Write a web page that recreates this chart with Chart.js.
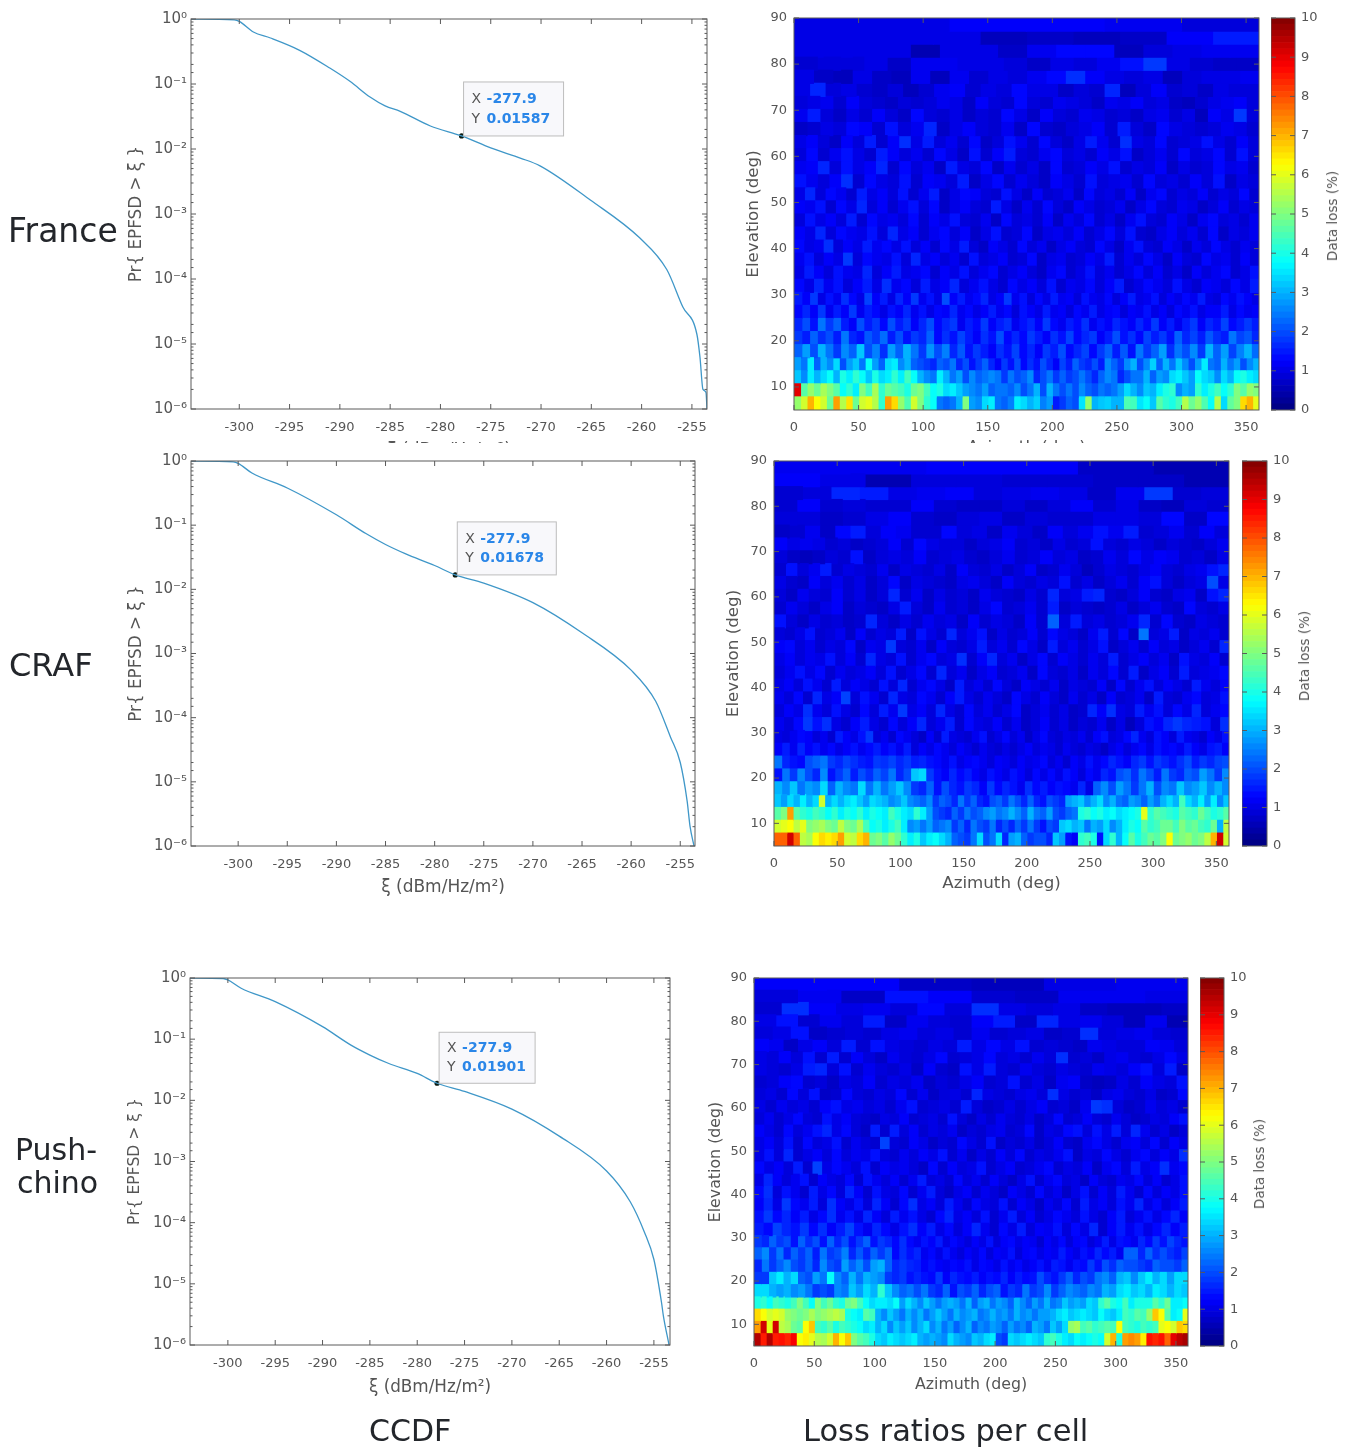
<!DOCTYPE html>
<html>
<head>
<meta charset="utf-8">
<title>CCDF and loss ratios</title>
<script src="https://cdn.jsdelivr.net/npm/chart.js@4"></script>
<style>
html, body { margin: 0; padding: 0; background: #fff; }
#page { position: relative; width: 1354px; height: 1449px; overflow: hidden; filter: blur(0.5px); font-family: "DejaVu Sans", sans-serif; }
#page canvas { position: absolute; }
.big { position: absolute; color: #23262b; white-space: nowrap; line-height: 1; }
.barlabel { position: absolute; font-size: 13.5px; color: #555; white-space: nowrap; transform: translate(-50%, -50%) rotate(-90deg); }
</style>
</head>
<body>
<div id="page"></div>
<script>
// CCDF curves (xi in dBm/Hz/m2, probability)
const franceXi = [-304.8, -300.5, -300, -298.6, -296.9, -294, -291, -289, -287, -285.5, -284, -281, -277.9, -275, -272, -270.1, -265.1, -260.2, -257.5, -255.9, -254.5, -254.2, -253.9, -253.6, -253.5];
const francePr = [1, 0.97, 0.92, 0.63, 0.51, 0.33, 0.176, 0.11, 0.063, 0.046, 0.038, 0.0226, 0.01587, 0.0104, 0.0072, 0.0055, 0.00164, 0.00043, 0.00014, 0.000037, 0.000014, 0.0000063, 0.000002, 0.0000018, 0.000001];
const crafXi = [-304.8, -300.5, -300, -298.6, -295, -290, -287, -285, -283, -280, -277.9, -275, -270, -265, -260, -257.5, -256, -255, -254.3, -254, -253.6];
const crafPr = [1, 0.97, 0.92, 0.65, 0.38, 0.145, 0.074, 0.05, 0.036, 0.0235, 0.01678, 0.0125, 0.0062, 0.0021, 0.00055, 0.00018, 0.00005, 0.00002, 0.000005, 0.000002, 0.000001];
const pushXi = [-304, -300.5, -300, -298.6, -295, -290, -287, -285, -283, -280, -277.9, -275, -270, -265, -260, -257.5, -256, -255, -254.2, -254, -253.4];
const pushPr = [1, 0.98, 0.93, 0.68, 0.41, 0.16, 0.08, 0.055, 0.04, 0.0275, 0.01901, 0.014, 0.0072, 0.0026, 0.0007, 0.00022, 0.00007, 0.000025, 0.000005, 0.000003, 0.000001];

const tipXi = -277.9;
const xiTicks = [-300, -295, -290, -285, -280, -275, -270, -265, -260, -255];
const prTickLabels = ["10⁰", "10⁻¹", "10⁻²", "10⁻³", "10⁻⁴", "10⁻⁵", "10⁻⁶"];
const azimuthTicks = [0, 50, 100, 150, 200, 250, 300, 350];
const elevationTicks = [10, 20, 30, 40, 50, 60, 70, 80, 90];
const lossTicks = [0, 1, 2, 3, 4, 5, 6, 7, 8, 9, 10];

// centre of each elevation row, top row first
const elevationRows = [88.58, 85.75, 82.92, 80.08, 77.25, 74.42, 71.58, 68.75, 65.92, 63.08, 60.25, 57.42, 54.58, 51.75, 48.92, 46.08, 43.25, 40.42, 37.58, 34.75, 31.92, 29.08, 26.25, 23.42, 20.58, 17.75, 14.92, 12.08, 9.25, 6.42];

// loss per cell in tenths of a percent, one line per elevation row, going round in azimuth
const franceLoss = [
[10,10,12,12,11,9],
[10,10,10,10,6,7,6,7,12,15],
[10,10,10,10,5,10,10,7,11,13,13,6,9,10,11,11],
[8,9,9,10,7,11,11,10,10,9,7,10,9,11,14,18,10,8,7,7],
[10,7,6,10,7,6,11,6,11,8,10,9,11,13,17,12,10,9,10,6,9,10,10,11],
[10,16,9,10,8,7,9,6,8,11,12,8,10,9,13,10,10,7,9,8,16,6,9,12,8,9,7,10,9,9],
[9,10,11,8,12,9,8,7,9,8,9,11,10,7,12,9,8,13,9,8,11,10,9,7,11,10,12,9,10,7,6,8,10,11,12,9],
[11,15,9,7,10,8,12,9,7,13,9,8,10,7,9,8,13,10,7,12,9,8,11,10,8,9,7,10,11,8,10,6,12,10,18,9],
[7,8,10,9,13,12,8,14,9,11,16,7,10,12,9,8,11,7,13,8,7,9,10,12,8,15,9,7,13,10,9,8,9,11,10,8],
[10,12,9,7,12,9,15,8,12,17,10,15,9,11,8,13,7,9,14,11,8,13,9,7,10,15,11,8,17,10,9,13,8,9,10,14,10,8,12,9],
[9,13,8,11,14,10,8,15,12,9,11,8,13,10,7,14,8,12,15,9,8,11,13,9,10,8,12,10,14,7,9,11,8,13,9,10,13,8,14,9],
[11,12,16,9,14,10,12,16,8,13,9,11,7,15,10,9,13,7,11,8,10,7,13,8,9,12,10,14,8,10,9,12,7,10,8,9,13,10,11,8],
[14,11,9,12,17,8,13,10,9,14,8,12,11,9,15,7,10,13,8,11,9,7,12,10,8,14,9,10,11,8,13,9,10,8,12,9,14,7,10,9],
[10,16,9,13,11,8,15,10,12,9,14,8,11,15,7,10,13,12,9,8,14,10,7,12,8,9,11,7,13,9,10,8,12,7,11,13,8,10,9,12,8,10,9,13,8],
[12,11,14,8,13,10,16,9,12,8,11,14,9,13,7,10,12,9,8,15,10,7,11,8,13,9,7,12,10,8,9,11,7,10,13,9,8,11,10,7,9,12,8,10,9],
[9,14,10,12,9,15,8,13,10,11,9,13,8,12,10,14,9,8,11,7,13,9,10,8,12,7,11,9,13,8,10,7,11,14,9,8,12,10,7,11,13,9,10,8,11],
[12,10,16,9,13,11,10,14,9,16,10,12,8,11,13,9,12,7,10,14,8,9,13,7,10,11,9,12,8,10,13,9,14,8,7,10,12,9,11,8,13,7,10,9,11],
[13,10,11,17,9,12,10,15,11,13,10,14,9,12,8,13,10,15,9,7,12,10,8,13,9,11,7,10,12,9,8,13,10,7,11,14,9,8,12,10,7,11,9,13,10,8,11,9],
[11,14,9,12,10,18,9,13,11,10,14,9,16,10,12,9,11,8,14,9,10,12,8,9,13,7,10,11,8,9,12,10,15,8,11,9,13,10,7,12,9,8,13,10,11,8,12,9],
[10,15,12,9,14,11,10,16,9,12,15,10,11,13,8,12,10,14,9,11,13,8,10,12,9,7,11,13,8,10,14,9,11,8,10,13,9,12,8,10,7,12,9,11,13,8,10,14],
[13,10,16,11,14,9,12,15,10,17,11,13,9,15,10,12,16,9,11,14,10,8,13,10,12,9,14,8,11,10,13,9,12,15,8,10,13,11,9,14,10,8,12,11,9,13,10,15],
[15,12,18,10,14,11,17,13,10,19,12,15,10,16,12,18,11,14,10,20,12,15,11,13,16,10,12,18,11,14,9,13,10,15,11,12,9,14,11,10,13,9,12,15,10,11,14,9,12,10,13,11,15,10,9,13,11,14,12,10],
[13,16,12,18,11,15,12,18,11,15,13,10,14,12,16,11,14,10,13,12,16,11,13,10,12,15,11,13,9,14,12,10,15,11,12,9,13,11,15,10,12,13,9,12,11,14,10,12,9,13,11,14,10,12,12,15,10,13,11,12],
[16,20,14,24,18,22,15,12,20,15,18,13,20,15,18,12,16,20,13,16,18,11,15,13,18,12,15,17,11,14,16,12,18,13,11,15,13,17,11,14,12,16,14,12,16,13,18,12,15,11,15,18,12,16,14,19,13,15,18,15],
[18,15,22,17,20,15,24,16,14,21,18,23,15,20,14,18,16,22,13,17,14,19,15,12,17,14,20,13,16,13,18,15,12,17,14,19,13,16,18,12,15,20,14,17,13,19,15,18,14,22,16,19,15,21,17,15,24,19,21,16],
[22,28,20,30,24,18,26,22,32,20,25,17,28,22,30,24,18,27,20,25,16,21,14,18,15,12,17,14,19,13,16,12,18,15,20,13,16,19,13,18,22,15,21,14,24,18,22,28,17,24,20,26,18,30,22,28,19,25,30,23],
[28,24,36,22,30,26,34,20,28,32,24,38,28,22,34,36,26,30,22,20,18,16,22,20,24,16,20,14,18,22,16,12,18,14,20,13,17,14,20,16,12,19,15,22,18,16,20,15,26,22,18,26,30,20,26,33,22,30,24,32,26,20,28,36,24,22,30,24,28,20,26,30],
[32,26,36,30,34,38,30,40,36,42,38,32,40,34,36,42,36,44,38,30,26,24,36,30,24,28,20,26,22,24,26,24,18,24,20,22,26,16,20,24,18,22,18,20,24,20,16,22,26,24,16,20,24,24,30,22,28,26,34,36,32,28,38,34,32,26,34,30,38,40,36,34],
[90,46,52,48,54,50,46,38,42,36,50,44,54,42,48,46,44,40,48,50,44,38,40,34,36,32,28,26,24,28,22,24,24,22,26,20,24,30,20,30,24,20,24,20,26,22,20,24,22,24,28,34,30,26,32,30,36,40,42,26,30,28,42,36,40,44,38,42,50,46,52,50],
[52,58,70,62,58,48,72,55,65,48,58,60,55,42,72,66,52,45,58,50,42,38,24,22,24,30,50,28,26,34,36,24,22,25,36,34,30,33,25,28,15,18,22,20,35,52,30,32,33,30,30,45,44,35,38,32,46,42,40,44,55,48,52,45,38,55,34,47,50,66,70,60]
];

const crafLoss = [
[11,11,12,12,7,5],
[12,10,5,9,9,8,8,7,7,5],
[8,9,16,15,10,11,12,9,10,11,10,7,11,18,8,9],
[8,12,8,9,8,8,12,8,7,7,9,7,9,12,8,10,7,6,9,8],
[9,9,7,8,10,12,8,7,9,10,7,9,8,8,10,10,9,13,7,13],
[7,8,11,7,13,15,9,12,11,8,8,13,9,10,7,11,9,7,12,9,11,14,11,15,8,9,11,8,12,9],
[12,10,11,10,8,9,7,8,9,12,8,13,10,9,9,7,9,10,12,8,9,7,10,8,9,14,9,8,10,9,7,9,8,7,9,11],
[9,7,6,7,9,8,14,7,9,10,9,12,8,9,10,8,7,9,11,8,9,12,9,10,7,8,11,9,13,10,12,11,8,9,7,10],
[8,14,9,11,15,8,10,9,8,11,7,10,9,8,10,7,12,9,8,10,7,9,12,7,8,11,9,6,8,10,9,8,10,12,9,8,10,11,14,16],
[10,8,7,12,9,11,8,10,7,9,13,7,10,9,8,7,10,11,9,7,12,9,8,10,9,14,8,10,7,9,11,8,12,14,9,7,9,10,20,10],
[9,7,11,9,8,12,8,10,7,9,16,8,11,7,10,8,9,7,11,9,8,7,10,8,16,9,10,15,16,8,7,9,12,8,7,10,11,7,14,16],
[8,11,9,7,10,12,7,9,8,7,10,15,9,7,11,8,9,7,10,13,8,9,11,8,15,7,9,8,7,8,10,7,9,11,8,7,13,9,8,10],
[14,9,7,10,8,9,7,8,16,9,7,10,8,11,9,10,7,12,8,10,9,7,12,8,22,9,15,9,10,8,9,11,16,8,13,8,7,10,9,8],
[9,8,10,14,8,9,11,7,12,8,10,9,15,7,14,10,8,16,9,11,14,7,10,8,9,12,8,13,10,9,7,11,15,8,13,7,24,9,10,15,7,10,9,11,8],
[12,13,9,11,8,10,9,13,7,11,10,18,9,8,11,7,12,9,8,10,15,9,11,8,13,10,7,15,9,11,8,10,14,7,9,11,8,12,9,10,7,9,11,8,16],
[10,12,9,11,10,14,9,12,8,16,10,9,14,8,11,13,9,10,17,8,12,16,9,11,7,10,13,8,12,10,8,11,9,15,8,10,12,9,11,7,14,10,9,12,8],
[9,11,14,10,13,8,11,9,10,12,9,14,8,10,13,8,16,9,11,7,10,12,8,9,11,7,13,9,8,10,7,11,9,13,8,15,7,10,12,8,15,9,10,11,13],
[10,12,9,14,11,8,15,9,12,10,8,14,9,16,8,11,13,10,7,15,9,11,8,13,9,7,12,10,8,11,7,10,9,8,12,7,13,8,11,14,9,12,10,8,15,11,9,12],
[11,9,13,8,16,10,12,19,9,14,11,8,16,10,9,13,11,8,12,15,10,8,11,9,7,13,10,8,12,9,7,11,8,10,7,12,8,9,11,7,15,9,8,11,13,9,10,14],
[9,12,10,17,11,9,14,10,8,13,9,15,11,18,10,12,9,16,10,8,13,9,11,8,10,13,7,9,11,8,10,7,8,16,12,17,10,9,15,11,14,9,13,10,16,9,11,13],
[11,9,13,18,14,17,10,8,12,15,10,8,13,9,12,16,9,11,15,8,13,10,9,12,8,11,7,9,12,8,10,7,9,8,11,7,10,6,9,14,12,16,18,16,15,14,9,17],
[10,9,11,13,12,9,11,8,15,12,10,14,18,9,11,8,13,11,9,7,12,8,15,10,9,8,11,14,8,10,13,9,11,7,10,13,9,8,10,9,11,8,12,14,9,10,13,16,11,9,14,12,9,15,11,10,8,12,10,14],
[12,15,11,16,12,14,11,13,10,12,14,11,13,15,12,14,11,15,9,12,10,13,11,9,12,10,8,11,9,8,10,8,10,12,9,11,10,8,11,9,8,10,9,7,10,12,9,11,13,10,14,12,13,11,15,12,10,14,15,12],
[24,16,14,13,20,22,24,18,16,19,17,15,14,18,17,19,16,18,15,16,14,13,11,14,10,12,13,11,9,12,11,9,12,10,11,13,9,11,8,12,10,14,11,13,16,14,12,16,18,14,18,16,14,17,20,15,18,16,19,20],
[14,24,18,26,20,16,26,14,18,22,15,20,17,22,19,24,16,20,32,34,18,14,12,16,13,15,12,10,14,12,10,14,12,9,13,10,13,10,14,12,9,13,11,16,14,20,22,17,24,20,15,24,18,16,22,20,28,24,18,26],
[30,26,32,24,28,26,34,22,30,26,24,34,24,30,24,28,32,26,18,16,22,14,20,16,14,18,16,12,18,13,16,14,11,17,13,15,12,14,13,11,16,10,22,26,20,28,24,18,24,30,20,26,24,32,26,28,32,26,30,26],
[32,28,34,30,36,30,34,58,30,34,30,34,36,32,28,34,32,30,26,28,32,26,24,22,26,18,22,20,16,24,18,22,16,14,20,22,18,24,20,16,22,16,14,20,18,16,28,30,32,26,30,34,26,30,24,22,28,26,22,28,24,30,34,30,44,34,30,36,28,36,26,32],
[46,50,72,46,42,40,44,42,38,42,36,40,38,42,36,40,38,36,44,40,36,34,42,36,28,20,18,16,22,18,24,20,22,26,28,24,26,30,26,22,30,24,22,28,20,18,22,24,40,42,38,40,36,38,34,36,38,40,60,42,46,44,42,40,46,44,42,48,44,40,42,46],
[58,60,62,56,60,50,52,54,50,48,56,50,48,54,44,38,40,36,40,44,36,26,28,24,28,22,24,26,18,22,16,24,20,18,24,16,20,16,22,18,24,18,14,20,18,32,34,30,32,24,30,28,34,26,30,36,40,38,46,42,44,48,48,44,50,46,48,44,42,48,30,56],
[78,78,92,78,56,54,62,66,64,66,72,58,56,66,70,48,50,46,52,48,42,36,40,32,36,38,34,30,22,20,18,24,34,20,24,34,16,28,30,22,18,20,20,16,32,28,14,12,42,44,40,14,34,42,30,38,46,40,44,48,46,50,62,48,50,52,48,50,56,70,92,58]
];

const pushLoss = [
[12,12,7,6,10,11],
[9,11,7,14,12,8,7,11,11,10],
[8,17,12,10,11,9,13,9,17,10,9,10,7,6,6,7],
[10,14,8,11,9,15,7,11,9,8,12,15,7,16,10,11,9,6,11,5],
[9,10,14,7,8,9,8,10,11,9,10,8,11,8,9,10,7,8,17,9,10,11,9,8],
[12,11,7,10,12,9,15,8,14,10,9,8,10,9,15,10,13,10,14,8,9,8,7,11,10,9,9,12,11,9],
[10,9,12,9,14,8,15,8,12,9,7,11,9,8,10,13,8,9,10,13,9,10,8,11,9,17,8,9,7,10,11,9,8,10,13,10],
[10,9,8,10,15,16,9,14,8,11,9,8,10,7,12,8,7,14,10,15,9,8,11,9,8,10,9,8,11,10,9,12,14,9,15,7],
[8,9,12,13,8,9,7,10,9,12,8,10,9,11,7,9,8,10,12,8,9,14,8,10,7,11,12,7,6,7,10,8,12,10,9,14],
[9,10,8,13,9,14,7,8,13,9,8,10,9,13,8,11,7,9,10,8,16,10,9,8,10,11,9,17,10,8,9,7,10,11,9,8,10,7,8,13],
[10,8,11,9,10,8,12,14,10,11,9,10,8,11,14,8,9,10,8,15,9,7,8,10,8,10,12,8,9,7,11,18,17,9,7,8,11,9,10,8],
[9,11,8,10,13,9,8,14,10,12,9,8,7,10,9,12,8,9,10,8,14,9,7,10,8,11,9,8,10,7,9,13,8,9,12,9,8,11,9,7,8,10,9,12,14],
[12,10,8,13,9,11,14,16,10,13,9,7,15,8,15,9,12,8,10,9,11,7,9,8,10,11,8,9,13,7,10,9,13,14,9,14,10,15,9,16,11,8,10,7,9],
[10,12,9,14,8,13,9,10,14,8,11,9,8,19,9,8,12,10,7,9,8,13,10,8,14,7,9,8,10,7,9,12,8,7,11,13,10,8,11,12,9,13,8,12,10],
[10,14,9,16,8,10,12,9,13,9,11,10,14,9,8,11,9,12,10,14,8,11,7,10,8,12,9,13,8,10,9,11,14,7,10,9,13,10,8,11,13,9,12,10,17],
[13,10,12,9,15,8,19,10,13,11,9,14,8,12,10,11,9,7,13,8,12,9,10,14,8,10,12,8,9,11,13,8,10,9,12,7,11,13,9,15,10,12,17,11,13],
[10,16,12,9,11,14,8,12,10,9,13,8,14,11,9,12,8,11,15,9,10,8,13,9,11,8,12,9,7,10,14,8,11,13,9,10,7,12,9,8,11,10,13,9,12,8,10,14],
[13,17,9,14,11,8,15,10,13,9,16,12,8,14,10,9,13,8,11,15,9,7,10,12,8,11,9,7,12,10,8,13,9,11,7,10,14,8,12,9,15,11,8,13,9,12,10,14],
[12,16,10,18,13,11,15,9,17,12,10,14,9,16,12,8,13,17,10,12,9,15,11,8,13,10,9,14,8,12,10,7,11,9,13,8,15,10,12,9,14,11,16,10,13,9,12,15],
[14,18,13,16,12,15,10,13,17,11,14,10,16,12,9,15,11,14,10,8,13,16,10,12,9,14,8,11,15,9,12,8,10,13,11,9,14,10,8,12,15,9,11,14,10,13,16,12],
[15,13,19,16,14,18,13,17,12,15,19,14,11,16,13,10,14,17,12,15,10,13,9,12,16,11,8,13,10,15,9,12,11,14,9,13,10,16,8,12,15,11,14,10,13,16,12,15],
[18,16,22,18,20,14,22,17,20,14,22,16,20,14,18,22,14,18,16,13,17,13,11,14,12,15,10,13,11,9,12,10,14,9,12,13,10,12,11,8,12,10,13,9,12,13,9,11,15,10,14,13,11,16,13,18,14,19,16,14],
[22,26,18,24,16,22,18,22,15,24,18,20,25,16,21,16,22,18,22,13,17,14,16,11,13,10,14,11,9,12,10,13,9,12,11,14,9,12,13,10,12,11,15,12,10,14,12,16,13,15,11,22,22,16,22,17,20,17,15,19],
[16,24,18,22,26,20,18,22,16,26,20,18,28,22,26,20,28,30,22,16,18,16,15,12,14,12,11,13,12,14,10,13,12,10,14,11,13,10,12,14,11,15,14,11,14,13,18,14,20,17,22,20,20,18,16,22,20,20,18,22],
[18,18,32,36,30,34,22,20,28,24,38,26,22,30,24,30,28,26,18,16,18,14,16,14,13,18,12,16,14,13,15,12,14,13,16,12,15,13,14,20,16,14,18,22,16,20,18,24,26,22,30,32,26,32,36,30,34,28,34,34],
[34,34,30,28,30,26,28,24,18,20,18,26,24,32,28,34,30,42,32,26,22,24,20,24,18,16,22,14,20,18,22,16,20,22,14,18,16,24,18,20,26,18,22,26,24,22,26,24,30,28,34,36,32,34,30,36,34,30,34,32],
[40,42,38,44,42,40,44,50,44,38,50,44,48,42,40,48,50,44,38,34,36,36,34,38,28,34,30,26,32,28,24,28,30,28,24,30,22,28,30,24,28,26,22,30,26,22,28,24,30,24,26,32,28,30,28,34,32,42,46,40,38,44,36,40,40,40,46,42,48,36,36,38],
[66,62,58,60,58,52,50,48,50,54,50,52,54,56,54,40,38,36,46,44,30,26,32,28,24,30,26,30,24,28,32,28,24,30,26,28,30,24,26,30,26,28,24,30,26,28,24,28,28,30,34,36,32,34,36,34,32,38,34,32,36,44,42,46,44,52,68,62,46,36,38,60],
[72,92,60,92,56,54,48,46,62,68,44,42,46,40,44,42,40,38,34,36,30,34,26,32,28,32,26,30,34,26,30,24,28,22,26,30,22,26,24,28,26,22,28,24,26,22,30,28,24,32,28,34,52,54,44,46,42,44,46,44,62,44,42,40,44,42,44,60,62,58,68,66],
[95,85,95,85,86,84,88,62,64,60,55,54,58,70,62,68,50,46,44,40,34,32,36,34,32,34,36,30,28,30,28,26,34,30,28,26,32,30,34,36,20,18,34,32,34,36,34,32,42,44,40,36,34,38,36,38,40,38,58,70,40,72,74,72,64,86,84,86,78,90,94,96]
];

const labelColor = "#555";
const boxColor = "#5a5a5a";
const curveColor = "#3f97c8";

// jet colormap, t between 0 and 1
function jet(t) {
    const c = (v) => Math.round(255 * Math.min(1, Math.max(0, 1.5 - Math.abs(4 * t - v))));
    return `rgb(${c(3)},${c(2)},${c(1)})`;
}

// Matlab style box with inward ticks on all four sides
const boxPlugin = {
    id: "matlabBox",
    afterDatasetsDraw(chart) {
        const { ctx, chartArea: a, scales } = chart;
        ctx.save();
        ctx.strokeStyle = boxColor;
        ctx.lineWidth = 1;
        ctx.strokeRect(a.left, a.top, a.right - a.left, a.bottom - a.top);
        ctx.beginPath();
        if (scales.x && scales.x.ticks.length && !chart.options.noXTicks) {
            scales.x.ticks.forEach((tick) => {
                const px = scales.x.getPixelForValue(tick.value);
                ctx.moveTo(px, a.bottom); ctx.lineTo(px, a.bottom - 5);
                ctx.moveTo(px, a.top); ctx.lineTo(px, a.top + 5);
            });
        }
        scales.y.ticks.forEach((tick) => {
            const isLog = scales.y.type === "logarithmic";
            const decade = !isLog || Math.abs(Math.log10(tick.value) - Math.round(Math.log10(tick.value))) < 1e-6;
            const len = decade ? 5 : 2.5;
            const py = scales.y.getPixelForValue(tick.value);
            ctx.moveTo(a.left, py); ctx.lineTo(a.left + len, py);
            ctx.moveTo(a.right, py); ctx.lineTo(a.right - len, py);
        });
        ctx.stroke();
        ctx.restore();
    }
};

// data tip next to the marked point of a CCDF
const tipPlugin = {
    id: "dataTip",
    afterDatasetsDraw(chart, args, opts) {
        if (!opts.y) return;
        const { ctx, scales } = chart;
        const px = scales.x.getPixelForValue(tipXi);
        const py = scales.y.getPixelForValue(opts.y);
        const bx = px + 2, by = py - opts.h;
        ctx.save();
        ctx.fillStyle = "#f8f8fb";
        ctx.strokeStyle = "#bdbdbd";
        ctx.fillRect(bx, by, opts.w, opts.h);
        ctx.strokeRect(bx, by, opts.w, opts.h);
        ctx.textBaseline = "middle";
        ctx.font = "14px 'DejaVu Sans'";
        ctx.fillStyle = "#555";
        ctx.fillText("X", bx + 8, by + opts.h * 0.32);
        ctx.fillText("Y", bx + 8, by + opts.h * 0.69);
        ctx.font = "bold 14px 'DejaVu Sans'";
        ctx.fillStyle = "#2a86e8";
        ctx.fillText(String(tipXi), bx + 23, by + opts.h * 0.32);
        ctx.fillText(String(opts.y), bx + 23, by + opts.h * 0.69);
        ctx.restore();
    }
};

Chart.defaults.font.family = "'DejaVu Sans', sans-serif";

const page = document.getElementById("page");
const headroom = 20;

function addCanvas(left, top, width, height, clipBottom) {
    const canvas = document.createElement("canvas");
    canvas.width = width;
    canvas.height = height;
    const wrap = document.createElement("div");
    wrap.style.cssText = `position:absolute;left:${left}px;top:${top}px;width:${width}px;height:${clipBottom || height}px;overflow:hidden`;
    canvas.style.left = "0";
    canvas.style.top = "0";
    wrap.appendChild(canvas);
    page.appendChild(wrap);
    return canvas;
}

function addText(cls, text, left, top, size) {
    const div = document.createElement("div");
    div.className = cls;
    div.textContent = text;
    div.style.left = left + "px";
    div.style.top = top + "px";
    if (size) div.style.fontSize = size + "px";
    page.appendChild(div);
}

function setTicks(values) {
    return (scale) => { scale.ticks = values.map((v) => ({ value: v })); };
}

// box = plot rectangle on the page, titleX = centre of the y title, clip = page y where the picture stops
function drawCcdf(xs, ys, tipY, box, o) {
    const left = o.titleX - 10, top = box.t - headroom, leftW = box.l - left;
    const width = box.r + 22 - left, height = headroom + box.b - box.t + o.bottomH;
    const canvas = addCanvas(left, top, width, height, o.clip ? o.clip - top : 0);
    new Chart(canvas, {
        type: "line",
        data: {
            datasets: [
                { data: xs.map((x, i) => ({ x: x, y: ys[i] })), borderColor: curveColor, borderWidth: 1.3, pointRadius: 0, cubicInterpolationMode: "monotone" },
                { data: [{ x: tipXi, y: tipY }], showLine: false, pointRadius: 2.6, pointBackgroundColor: "#0b1a10", pointBorderWidth: 0 }
            ]
        },
        options: {
            responsive: false, animation: false, events: [],
            devicePixelRatio: 1,
            layout: { padding: { top: headroom, right: 22 } },
            plugins: { legend: { display: false }, tooltip: { enabled: false }, dataTip: { y: tipY, w: o.tipW, h: o.tipH } },
            scales: {
                x: {
                    type: "linear", min: o.xMin, max: o.xMax,
                    afterBuildTicks: setTicks(xiTicks),
                    afterFit: (s) => { s.height = o.bottomH; },
                    grid: { display: false, drawTicks: false }, border: { display: false },
                    ticks: { color: labelColor, font: { size: 13 }, padding: 11, maxRotation: 0, autoSkip: false, callback: (v) => String(v) },
                    title: { display: true, text: "ξ (dBm/Hz/m²)", color: labelColor, font: { size: o.xTitleSize }, padding: 0 }
                },
                y: {
                    type: "logarithmic", min: 1e-6, max: 1,
                    afterFit: (s) => { s.width = leftW; },
                    grid: { display: false, drawTicks: false }, border: { display: false },
                    ticks: {
                        color: labelColor, font: { size: 15 }, padding: 4, autoSkip: false,
                        callback: (v) => {
                            const e = Math.round(-Math.log10(v));
                            return Math.abs(-Math.log10(v) - e) < 1e-6 ? prTickLabels[e] : "";
                        }
                    },
                    title: { display: true, text: "Pr{ EPFSD > ξ }", color: labelColor, font: { size: o.yTitleSize }, padding: 0 }
                }
            }
        },
        plugins: [boxPlugin, tipPlugin]
    });
}

function drawHeat(loss, box, titleX, bottomH, titleSize, clip) {
    const left = titleX - 10, top = box.t - headroom, leftW = box.l - left;
    const width = box.r + 14 - left, height = headroom + box.b - box.t + bottomH;
    const canvas = addCanvas(left, top, width, height, clip ? clip - top : 0);
    // one stacked dataset per position along a row, bar length is the cell width of that row
    const maxCells = Math.max(...loss.map((row) => row.length));
    const datasets = [];
    for (let j = 0; j < maxCells; j++) {
        const data = [], colors = [];
        loss.forEach((row, i) => {
            if (j < row.length) {
                data.push({ x: 360 / row.length, y: elevationRows[i] });
                colors.push(jet(row[j] / 100));
            }
        });
        datasets.push({ data: data, backgroundColor: colors, borderWidth: 0, barPercentage: 1, categoryPercentage: 1, inflateAmount: 0.6 });
    }
    new Chart(canvas, {
        type: "bar",
        data: { datasets: datasets },
        options: {
            indexAxis: "y",
            responsive: false, animation: false, events: [],
            devicePixelRatio: 1,
            layout: { padding: { top: headroom, right: 14 } },
            plugins: { legend: { display: false }, tooltip: { enabled: false } },
            scales: {
                x: {
                    type: "linear", min: 0, max: 360, stacked: true,
                    afterBuildTicks: setTicks(azimuthTicks),
                    afterFit: (s) => { s.height = bottomH; },
                    grid: { display: false, drawTicks: false }, border: { display: false },
                    ticks: { color: labelColor, font: { size: 13 }, padding: 10, maxRotation: 0, autoSkip: false },
                    title: { display: true, text: "Azimuth (deg)", color: labelColor, font: { size: titleSize }, padding: 0 }
                },
                y: {
                    type: "linear", min: 5, max: 90, stacked: true, offset: false,
                    afterBuildTicks: setTicks(elevationTicks),
                    afterFit: (s) => { s.width = leftW; },
                    grid: { display: false, drawTicks: false, offset: false }, border: { display: false },
                    ticks: { color: labelColor, font: { size: 13 }, padding: 7, autoSkip: false },
                    title: { display: true, text: "Elevation (deg)", color: labelColor, font: { size: titleSize }, padding: 0 }
                }
            }
        },
        plugins: [boxPlugin]
    });
}

function drawColorbar(box, labelX) {
    const canvas = addCanvas(box.l, box.t - headroom, box.r - box.l + 30, box.b - box.t + 2 * headroom);
    const levels = 64, datasets = [];
    for (let k = 0; k < levels; k++) {
        datasets.push({ data: [10 / levels], backgroundColor: jet((k + 0.5) / levels), borderWidth: 0, barPercentage: 1, categoryPercentage: 1 });
    }
    new Chart(canvas, {
        type: "bar",
        data: { labels: [""], datasets: datasets },
        options: {
            responsive: false, animation: false, events: [],
            devicePixelRatio: 1,
            layout: { padding: { top: headroom, bottom: headroom } },
            noXTicks: true,
            plugins: { legend: { display: false }, tooltip: { enabled: false } },
            scales: {
                x: { stacked: true, display: false },
                y: {
                    type: "linear", position: "right", min: 0, max: 10, stacked: true,
                    afterBuildTicks: setTicks(lossTicks),
                    afterFit: (s) => { s.width = 30; },
                    grid: { display: false, drawTicks: false }, border: { display: false },
                    ticks: { color: labelColor, font: { size: 13 }, padding: 6, autoSkip: false }
                }
            }
        },
        plugins: [boxPlugin]
    });
    addText("barlabel", "Data loss (%)", labelX, (box.t + box.b) / 2 + 2);
}

drawCcdf(franceXi, francePr, 0.01587, { l: 191, t: 19, r: 707, b: 409 }, { titleX: 137, bottomH: 52, tipW: 100, tipH: 54, clip: 443, xMin: -304.8, xMax: -253.5, xTitleSize: 17, yTitleSize: 16.8 });
drawCcdf(crafXi, crafPr, 0.01678, { l: 191, t: 461, r: 695, b: 846 }, { titleX: 137, bottomH: 52, tipW: 99, tipH: 53, xMin: -304.8, xMax: -253.5, xTitleSize: 17, yTitleSize: 16.8 });
drawCcdf(pushXi, pushPr, 0.01901, { l: 190, t: 978, r: 670, b: 1345 }, { titleX: 136, bottomH: 53, tipW: 96, tipH: 51, xMin: -304, xMax: -253.3, xTitleSize: 16.8, yTitleSize: 15.6 });

drawHeat(franceLoss, { l: 794, t: 18, r: 1259, b: 410 }, 754, 48, 16.7, 443);
drawHeat(crafLoss, { l: 774, t: 461, r: 1229, b: 846 }, 734, 48, 16.7);
drawHeat(pushLoss, { l: 754, t: 978, r: 1188, b: 1346 }, 716, 48, 15.8);

drawColorbar({ l: 1271, t: 18, r: 1295, b: 410 }, 1332);
drawColorbar({ l: 1242, t: 461, r: 1267, b: 846 }, 1304);
drawColorbar({ l: 1200, t: 978, r: 1224, b: 1346 }, 1259);

addText("big", "France", 8, 214, 33);
addText("big", "CRAF", 9, 649, 32);
addText("big", "Push-", 15, 1135, 30);
addText("big", "chino", 17, 1168, 30);
addText("big", "CCDF", 369, 1416, 30);
addText("big", "Loss ratios per cell", 803, 1416, 30.5);
</script>
</body>
</html>
